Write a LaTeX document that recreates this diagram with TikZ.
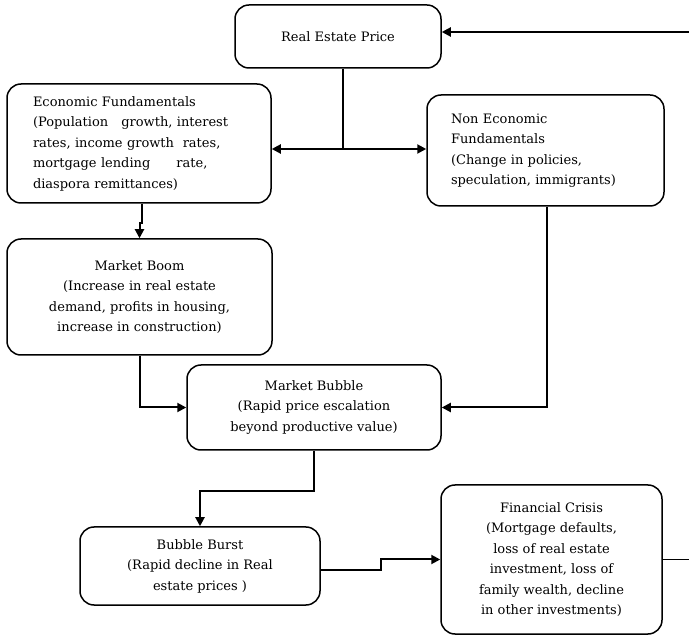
\documentclass[tikz,border=0pt]{standalone}
\usepackage{fontspec}
\setmainfont{DejaVu Serif}
\usetikzlibrary{arrows.meta}
\begin{document}
\begin{tikzpicture}[x=1pt,y=-1pt,
  flowbox/.style={draw,line width=1.5pt,rounded corners=14pt,inner sep=0pt,
    font=\fontsize{13}{20.5}\selectfont},
  conn/.style={line width=2pt},
  arr/.style={conn,-{Triangle[length=9pt,width=9pt]}}]
\useasboundingbox (0,0) rectangle (689,636);
\node[flowbox,minimum width=206pt,minimum height=63pt] (rep) at (338,36.5){Real Estate Price};
\node[flowbox,minimum width=264pt,minimum height=119pt,text width=212pt,align=left] (ef) at (139,143.5)
  {Economic Fundamentals\\(Population\ \ \ growth,\ interest\\rates,\ income\ growth\ \ rates,\\mortgage lending\qquad rate,\\diaspora remittances)};
\node[flowbox,minimum width=237pt,minimum height=111pt,text width=189pt,align=left] (nef) at (545.5,150.5)
  {Non Economic\\Fundamentals\\(Change in policies,\\speculation, immigrants)};
\node[flowbox,minimum width=265pt,minimum height=116pt,align=center] (mb) at (139.5,297)
  {Market Boom\\(Increase in real estate\\demand, profits in housing,\\increase in construction)};
\node[flowbox,minimum width=254pt,minimum height=85pt,align=center] (mbub) at (314,407.5)
  {Market Bubble\\(Rapid price escalation\\beyond productive value)};
\node[flowbox,minimum width=240pt,minimum height=78pt,align=center] (bb) at (200,566)
  {Bubble Burst\\(Rapid decline in Real\\estate prices )};
\node[flowbox,minimum width=221pt,minimum height=149pt,align=center] (fc) at (551.5,559.5)
  {Financial Crisis\\(Mortgage defaults,\\loss of real estate\\investment, loss of\\family wealth, decline\\in other investments)};
% loop ends at the page edge
\coordinate (loopin) at (689,32);
\coordinate (loopout) at (689,559.5);
\coordinate (split) at (343,149);
\draw[arr] (loopin) -- (loopin -| rep.east);
\draw[conn] (rep.south -| split) -- (split);
\draw[arr] (split) -- (split -| ef.east);
\draw[arr] (split) -- (split -| nef.west);
\draw[arr] ([xshift=3pt]ef.south) -- ++(0,19) -| (mb.north);
\draw[arr] (mb.south) |- (mbub.west);
\draw[arr] ([xshift=1.5pt]nef.south) |- (mbub.east);
\draw[arr] (mbub.south) -- ++(0,40) -| (bb.north);
\draw[arr] ([yshift=-4pt]bb.east) -- ++(60,0) |- (fc.west);
\draw[line width=1pt] (fc.east) -- (loopout);
\end{tikzpicture}
\end{document}
